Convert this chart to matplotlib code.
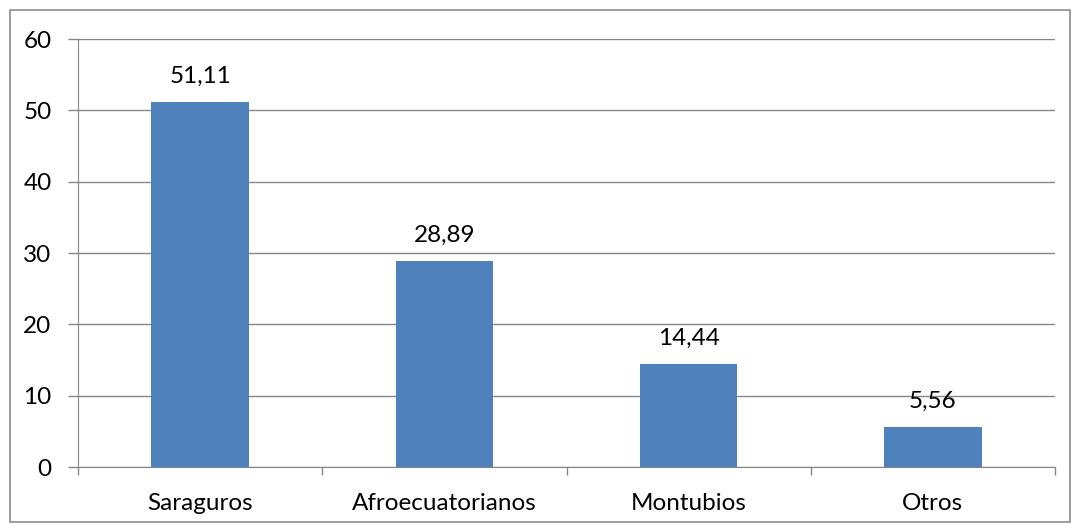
import matplotlib.pyplot as plt
from matplotlib.patches import Rectangle

# datos del gráfico
categorias = ["Saraguros", "Afroecuatorianos", "Montubios", "Otros"]
valores = [51.11, 28.89, 14.44, 5.56]
etiquetas = ["51,11", "28,89", "14,44", "5,56"]
yticks = [0, 10, 20, 30, 40, 50, 60]

plt.rcParams['font.family'] = ['Lato', 'DejaVu Sans']
fs = 17.5

fig = plt.figure(figsize=(10.79, 5.31), dpi=100)
ax = fig.add_axes([78/1079, 64/531, (1055-78)/1079, (467-39)/531])

# marco exterior
fig.patches.append(Rectangle((9.5/1079, 9.5/531), 1060/1079, 512/531,
                             transform=fig.transFigure, fill=False,
                             edgecolor="#8c8c8c", linewidth=1.2))

x = range(len(categorias))
ax.bar(x, valores, width=0.4, color="#4F81BD", zorder=3)
for xi, v, lab in zip(x, valores, etiquetas):
    ax.annotate(lab, xy=(xi, v), xytext=(0, 11), textcoords="offset points",
                ha="center", va="bottom", fontsize=fs, zorder=4)

ax.set_xlim(-0.5, len(categorias) - 0.5)
ax.set_ylim(0, 60)
ax.set_yticks(yticks)
ax.set_yticklabels([str(t) for t in yticks], fontsize=fs)
ax.yaxis.grid(True, color="#868686", linewidth=1.0, zorder=0)

ax.set_xticks(list(x))
ax.set_xticklabels(categorias, fontsize=fs)
ax.tick_params(axis="x", length=0, pad=19)
ax.set_xticks([i - 0.5 for i in range(len(categorias) + 1)], minor=True)
ax.tick_params(axis="x", which="minor", length=6, color="#868686", width=1)
ax.tick_params(axis="y", length=7, color="#868686", width=1, pad=12)

for s in ["top", "right"]:
    ax.spines[s].set_visible(False)
for s in ["left", "bottom"]:
    ax.spines[s].set_color("#868686")

fig.savefig("out.png", dpi=100)
